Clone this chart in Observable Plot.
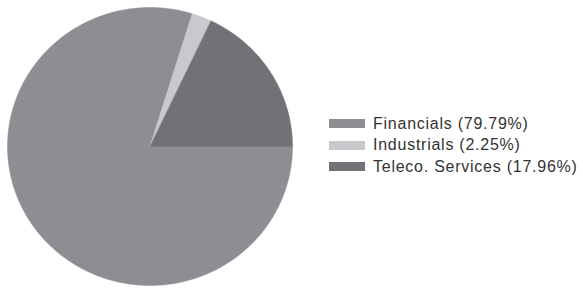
<!DOCTYPE html>
<html>
<head>
<meta charset="utf-8">
<script src="https://cdn.jsdelivr.net/npm/d3@7"></script>
<script src="https://cdn.jsdelivr.net/npm/@observablehq/plot@0.6"></script>
<style>
  html, body { margin: 0; padding: 0; background: #fff; }
  #wrap { position: relative; width: 583px; height: 289px; }
  #legend { position: absolute; left: 329px; top: 113px; font-family: "Liberation Sans", Arial, sans-serif; font-size: 16px; letter-spacing: 0.75px; color: #333; }
  .row { display: flex; align-items: center; height: 21.5px; }
  .sw { width: 36px; height: 9px; margin-right: 8px; }
</style>
</head>
<body>
<div id="wrap"></div>
<script>
const categories = ["Financials", "Industrials", "Teleco. Services"];
const shares = [79.79, 2.25, 17.96];
const colors = ["#8e8d93", "#c9c8cd", "#727178"];

// pie geometry from the data (clockwise from 3 o'clock)
const pie = d3.pie().sort(null).startAngle(Math.PI / 2).endAngle(Math.PI / 2 + 2 * Math.PI)(shares);
const pts = [];
pie.forEach((s, i) => {
  const name = categories[i];
  pts.push({name, x: 0, y: 0});
  const n = Math.max(2, Math.ceil((s.endAngle - s.startAngle) / 0.01));
  for (let k = 0; k <= n; k++) {
    const a = s.startAngle + (s.endAngle - s.startAngle) * k / n;
    pts.push({name, x: Math.sin(a), y: Math.cos(a)});
  }
  pts.push({name, x: 0, y: 0});
});

const plot = Plot.plot({
  width: 583,
  height: 289,
  marginLeft: 7,
  marginRight: 291,
  marginTop: 7,
  marginBottom: 4,
  x: {domain: [-1, 1], axis: null},
  y: {domain: [-1, 1], axis: null},
  color: {domain: categories, range: colors},
  marks: [
    Plot.line(pts, {x: "x", y: "y", z: "name", fill: "name", stroke: "name", strokeWidth: 0.5, curve: "linear"})
  ]
});
const wrap = document.getElementById("wrap");
wrap.appendChild(plot);

const color = plot.scale("color");
const legend = document.createElement("div");
legend.id = "legend";
categories.forEach((c, i) => {
  const row = document.createElement("div");
  row.className = "row";
  const sw = document.createElement("div");
  sw.className = "sw";
  sw.style.background = color.apply(c);
  const t = document.createElement("span");
  t.textContent = `${c} (${shares[i].toFixed(2)}%)`;
  row.appendChild(sw);
  row.appendChild(t);
  legend.appendChild(row);
});
wrap.appendChild(legend);
</script>
</body>
</html>
